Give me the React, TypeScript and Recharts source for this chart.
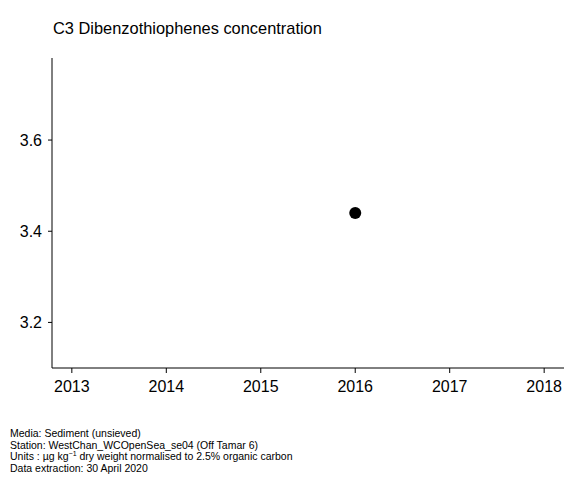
import { ScatterChart, Scatter, XAxis, YAxis } from "recharts";

const years = [2016];
const values = [3.44];
const xTicks = [2013, 2014, 2015, 2016, 2017, 2018];
const yTicks = [3.2, 3.4, 3.6];

const data = years.map((year, i) => ({ year, value: values[i] }));

const font = "'Liberation Sans', Arial, sans-serif";

export default function App() {
  return (
    <div
      style={{
        position: "absolute",
        left: 0,
        top: 0,
        width: 580,
        height: 480,
        background: "#fff",
        fontFamily: font,
      }}
    >
      <div
        style={{
          position: "absolute",
          left: 53,
          top: 19,
          fontSize: 16.4,
          color: "#000",
          whiteSpace: "nowrap",
        }}
      >
        C3 Dibenzothiophenes concentration
      </div>
      <ScatterChart
        width={580}
        height={480}
        margin={{ top: 58, right: 16, bottom: 82, left: 0 }}
      >
        <XAxis
          type="number"
          dataKey="year"
          domain={[2012.79, 2018.21]}
          ticks={xTicks}
          allowDataOverflow
          tickSize={5}
          tickMargin={8}
          height={30}
          axisLine={{ stroke: "#000" }}
          tickLine={{ stroke: "#000" }}
          tick={{ fill: "#000", fontSize: 16, fontFamily: font }}
        />
        <YAxis
          type="number"
          dataKey="value"
          domain={[3.1, 3.78]}
          ticks={yTicks}
          allowDataOverflow
          width={52}
          tickSize={4}
          tickMargin={6}
          tickFormatter={(v: number) => v.toFixed(1)}
          axisLine={{ stroke: "#000" }}
          tickLine={{ stroke: "#000" }}
          tick={{ fill: "#000", fontSize: 16, fontFamily: font }}
        />
        <Scatter
          data={data}
          fill="#000"
          isAnimationActive={false}
          shape={(p: any) => <circle cx={p.cx} cy={p.cy} r={6} fill="#000" />}
        />
      </ScatterChart>
      <div
        style={{
          position: "absolute",
          left: 10,
          top: 428,
          fontSize: 10.5,
          lineHeight: "11.5px",
          color: "#000",
          whiteSpace: "nowrap",
        }}
      >
        <div>Media: Sediment (unsieved)</div>
        <div>Station: WestChan_WCOpenSea_se04 (Off Tamar 6)</div>
        <div>
          Units :  µg kg<sup style={{ fontSize: 7, verticalAlign: "4px", lineHeight: 0 }}>−1</sup> dry weight normalised to 2.5% organic carbon
        </div>
        <div>Data extraction: 30 April 2020</div>
      </div>
    </div>
  );
}
